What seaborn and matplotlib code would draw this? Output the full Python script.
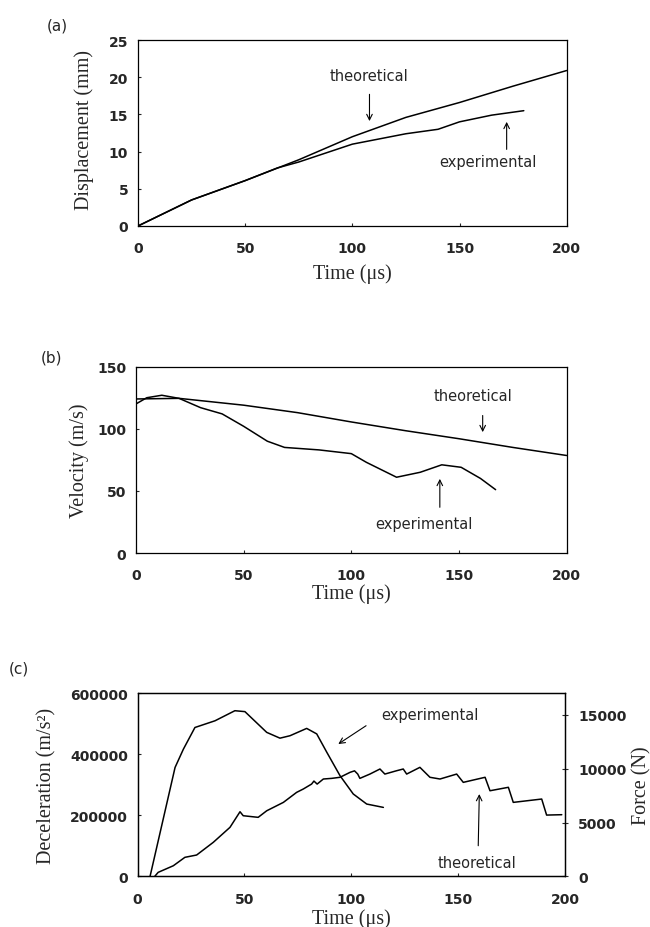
import matplotlib
matplotlib.use("Agg")
import matplotlib.pyplot as plt
import seaborn as sns
import numpy as np

sns.set_style("ticks")
plt.rcParams['font.family'] = ['DejaVu Sans']

# (a) displacement
t_disp_theo = [0, 25, 50, 75, 100, 125, 150, 175, 200]
disp_theo = [0, 3.5, 6.1, 8.9, 12.0, 14.6, 16.6, 18.8, 20.9]
t_disp_exp = [0, 25, 50, 65, 75, 100, 125, 140, 150, 165, 180]
disp_exp = [0, 3.5, 6.1, 7.8, 8.6, 11.0, 12.4, 13.0, 14.0, 14.9, 15.5]

# (b) velocity
t_vel_theo = [0, 20, 50, 75, 100, 125, 150, 175, 200]
vel_theo = [124, 124.5, 119, 113, 105.5, 98.5, 92, 85, 78.5]
t_vel_exp = [0, 5, 12, 20, 30, 40, 50, 61, 69, 85, 100, 107, 121, 132, 142, 151, 160, 167]
vel_exp = [120, 125, 127, 124.5, 117, 112, 102, 90, 85, 83, 80, 73, 61, 65, 71, 69, 60, 51]

# (c) deceleration (left) and force (right)
t_dec_exp = [5.8, 17.5, 21.4, 26.8, 36.2, 45.5, 50.2, 60.4, 66.6, 71.3, 79.1, 83.8,
             88.5, 94.7, 100.9, 107.2, 115]
dec_exp = [0, 357000, 417000, 488000, 510000, 543000, 540000, 472000, 453000, 461000,
           485000, 467000, 407000, 330000, 270000, 237000, 226000]
t_force_theo = [8, 9.6, 16.7, 22.1, 27.6, 35.4, 43.2, 47.9, 49.4, 56.4, 60.4, 68.2, 74.4,
                77.5, 81.4, 82.5, 84, 86.9, 90.8, 94.7, 99.4, 101.5, 103, 104, 108.7, 113.4,
                115.7, 121.2, 124.3, 125.9, 132.1, 136.8, 141.5, 149.3, 152.4, 162.6, 164.9,
                173.5, 175.8, 189.1, 191.4, 198.5]
force_theo = [0, 370, 985, 1765, 1980, 3160, 4550, 6000, 5630, 5480, 6090, 6870, 7800,
              8110, 8570, 8850, 8570, 9040, 9100, 9200, 9660, 9800, 9500, 9100, 9500, 9970,
              9500, 9810, 9970, 9500, 10125, 9200, 9040, 9500, 8730, 9200, 7950,
              8270, 6870, 7180, 5690, 5725]

serif = ['Liberation Serif', 'DejaVu Serif']
tick_kw = dict(fontsize=10, fontweight='bold')
lab_kw = dict(fontsize=14.5, family=serif)
ann_kw = dict(fontsize=10.5, ha='center', va='center')
arr = dict(arrowstyle='->', lw=0.8, color='black', shrinkA=0, shrinkB=0)

fig = plt.figure(figsize=(6.5, 9.28), dpi=100)
ax1 = fig.add_axes([0.2123, 0.7554, 0.6595, 0.2004])
ax2 = fig.add_axes([0.2092, 0.4030, 0.6626, 0.2008])
ax3 = fig.add_axes([0.2118, 0.0546, 0.6574, 0.1972])

for ax in (ax1, ax2, ax3):
    for sp in ax.spines.values():
        sp.set_linewidth(0.9)
        sp.set_color('black')
    ax.tick_params(axis='x', direction='in', length=2, pad=11)
    ax.tick_params(axis='y', direction='in', length=2, pad=7)
    ax.set_xlim(0, 200)
    ax.set_xticks([0, 50, 100, 150, 200])
    ax.set_xticklabels(['0', '50', '100', '150', '200'], **tick_kw)

# panel (a)
sns.lineplot(x=t_disp_theo, y=disp_theo, ax=ax1, color='black', lw=1.1)
sns.lineplot(x=t_disp_exp, y=disp_exp, ax=ax1, color='black', lw=1.1)
ax1.set_ylim(0, 25)
ax1.set_yticks([0, 5, 10, 15, 20, 25])
ax1.set_yticklabels(['0', '5', '10', '15', '20', '25'], **tick_kw)
ax1.set_xlabel('Time (μs)', **lab_kw)
ax1.set_ylabel('Displacement (mm)', **lab_kw)
ax1.xaxis.set_label_coords(0.5, -0.2)
ax1.yaxis.set_label_coords(-0.103, 0.52)
ax1.text(108, 20.2, 'theoretical', **ann_kw)
ax1.annotate('', xy=(108, 14.1), xytext=(108, 17.7), arrowprops=arr)
ax1.text(163.5, 8.7, 'experimental', **ann_kw)
ax1.annotate('', xy=(172, 14.0), xytext=(172, 10.3), arrowprops=arr)

# panel (b)
sns.lineplot(x=t_vel_theo, y=vel_theo, ax=ax2, color='black', lw=1.1)
sns.lineplot(x=t_vel_exp, y=vel_exp, ax=ax2, color='black', lw=1.1)
ax2.set_ylim(0, 150)
ax2.set_yticks([0, 50, 100, 150])
ax2.set_yticklabels(['0', '50', '100', '150'], **tick_kw)
ax2.set_xlabel('Time (μs)', **lab_kw)
ax2.set_ylabel('Velocity (m/s)', **lab_kw)
ax2.xaxis.set_label_coords(0.5, -0.165)
ax2.yaxis.set_label_coords(-0.108, 0.5)
ax2.text(156.5, 126.4, 'theoretical', **ann_kw)
ax2.annotate('', xy=(161, 97.3), xytext=(161, 110.7), arrowprops=arr)
ax2.text(133.5, 23.4, 'experimental', **ann_kw)
ax2.annotate('', xy=(141.1, 59.7), xytext=(141.1, 36.8), arrowprops=arr)

# panel (c)
sns.lineplot(x=t_dec_exp, y=dec_exp, ax=ax3, color='black', lw=1.1)
ax3.set_ylim(0, 600000)
ax3.set_yticks([0, 200000, 400000, 600000])
ax3.set_yticklabels(['0', '200000', '400000', '600000'], **tick_kw)
ax3.set_xlabel('Time (μs)', **lab_kw)
ax3.set_ylabel('Deceleration (m/s²)', **lab_kw)
ax3.xaxis.set_label_coords(0.5, -0.172)
ax3.yaxis.set_label_coords(-0.19, 0.5)
ax3.text(136.8, 532000, 'experimental', **ann_kw)
ax3.annotate('', xy=(93.9, 433800), xytext=(106.9, 493800), arrowprops=arr)
ax3.text(158.7, 45900, 'theoretical', **ann_kw)
ax3.annotate('', xy=(159.9, 269800), xytext=(159.4, 100300), arrowprops=arr)

ax3r = ax3.twinx()
sns.lineplot(x=t_force_theo, y=force_theo, ax=ax3r, color='black', lw=1.1)
ax3r.set_ylim(0, 17000)
ax3r.set_yticks([0, 5000, 10000, 15000])
ax3r.set_yticklabels(['0', '5000', '10000', '15000'], **tick_kw)
ax3r.tick_params(axis='y', direction='inout', length=5, pad=7)
ax3r.set_ylabel('Force (N)', **lab_kw)
ax3r.yaxis.set_label_coords(1.157, 0.5)
for sp in ax3r.spines.values():
    sp.set_linewidth(0.9)
    sp.set_color('black')

fig.text(57 / 650, 1 - 26 / 928, '(a)', fontsize=11, ha='center', va='center')
fig.text(51 / 650, 1 - 358 / 928, '(b)', fontsize=11, ha='center', va='center')
fig.text(19 / 650, 1 - 669 / 928, '(c)', fontsize=11, ha='center', va='center')

fig.savefig('out.png', dpi=100)
